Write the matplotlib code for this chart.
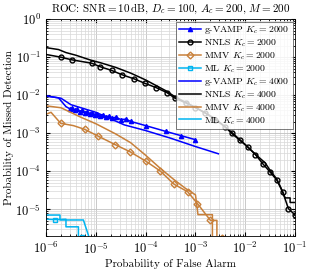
import numpy as np
import matplotlib
matplotlib.use("Agg")
import matplotlib.pyplot as plt

plt.rcParams['font.family'] = 'cmr10'
plt.rcParams['mathtext.fontset'] = 'cm'
plt.rcParams['axes.formatter.use_mathtext'] = True

# all values are log10 of the probabilities
# g-VAMP
gv2000_x = [-6.0, -5.75, -5.6, -5.52, -5.47, -5.42, -5.37, -5.32, -5.27, -5.22, -5.17, -5.12,
            -5.07, -5.02, -4.97, -4.92, -4.86, -4.8, -4.74, -4.67, -4.6, -4.5, -4.4, -4.3,
            -4.0, -3.6, -3.3, -3.0]
gv2000_y = [-2.02, -2.07, -2.3, -2.36, -2.33, -2.40, -2.37, -2.43, -2.40, -2.46, -2.43, -2.49,
            -2.46, -2.52, -2.49, -2.54, -2.51, -2.57, -2.55, -2.60, -2.58, -2.64, -2.63, -2.69,
            -2.80, -2.95, -3.06, -3.17]
gv4000_x = [-6.0, -5.7, -5.5, -5.0, -4.43, -4.0, -3.5, -3.0, -2.54]
gv4000_y = [-2.02, -2.08, -2.25, -2.45, -2.78, -2.93, -3.13, -3.35, -3.54]

# NNLS
nn2000_x = [-6.0, -5.705, -5.484, -5.082, -4.916, -4.681, -4.48, -4.233, -4.012, -3.791, -3.576,
            -3.41, -3.2, -3.0, -2.8, -2.6, -2.4, -2.271, -2.104, -1.95, -1.797, -1.65, -1.502,
            -1.367, -1.247, -1.135, -1.0]
nn2000_y = [-0.93, -1.0, -1.07, -1.16, -1.25, -1.35, -1.46, -1.57, -1.69, -1.80, -1.93,
            -2.08, -2.2, -2.33, -2.47, -2.64, -2.84, -3.005, -3.19, -3.36, -3.56, -3.80, -4.02,
            -4.23, -4.55, -4.98, -5.15]
nn4000_x = [-6.0, -5.75, -5.6, -5.4, -5.1, -4.9, -4.6, -4.3, -4.0, -3.8, -3.6, -3.4, -3.0,
            -2.6, -2.27, -2.0, -1.8, -1.6, -1.5, -1.37, -1.28, -1.2, -1.1, -1.1, -1.0]
nn4000_y = [-0.75, -0.80, -0.88, -0.95, -1.08, -1.15, -1.27, -1.42, -1.60, -1.74, -1.88, -2.05,
            -2.32, -2.62, -2.98, -3.3, -3.55, -3.78, -3.98, -4.2, -4.45, -4.7, -4.7, -4.82, -4.82]

# MMV
mmv2000_x = [-6.0, -5.9, -5.705, -5.45, -5.22, -4.95, -4.61, -4.31, -3.99, -3.71, -3.43,
             -3.155, -2.96, -2.70, -2.57, -2.57, -2.47]
mmv2000_y = [-2.50, -2.45, -2.74, -2.80, -2.90, -3.08, -3.30, -3.49, -3.74, -3.99, -4.34,
             -4.54, -4.85, -5.29, -5.29, -5.75, -5.75]
mmv4000_x = [-6.0, -5.7, -5.3, -5.0, -4.6, -4.3, -4.0, -3.7, -3.45, -3.2, -3.0, -2.95, -2.66, -2.66]
mmv4000_y = [-2.28, -2.33, -2.58, -2.75, -3.02, -3.25, -3.58, -3.93, -4.2, -4.45, -4.62, -5.14,
             -5.14, -6.0]

# ML
ml2000_x = [-6.0, -5.82, -5.6, -5.6, -5.35, -5.35, -5.28]
ml2000_y = [-5.26, -5.27, -5.26, -5.46, -5.46, -5.73, -5.73]
ml4000_x = [-6.0, -5.72, -5.72, -5.25, -5.12]
ml4000_y = [-5.15, -5.15, -5.28, -5.28, -5.8]

labels = [r'g-VAMP $K_c=2000$', r'NNLS $K_c=2000$', r'MMV $K_c=2000$', r'ML $K_c=2000$',
          r'g-VAMP $K_c=4000$', r'NNLS $K_c=4000$', r'MMV $K_c=4000$', r'ML $K_c=4000$']

c_blue = '#0000ff'
c_black = '#000000'
c_orange = '#c8803a'
c_cyan = '#00b4f0'

fig = plt.figure(figsize=(3.09, 2.69), dpi=100)
ax = fig.add_axes([0.149, 0.123, 0.806, 0.806])

p = lambda v: 10.0 ** np.array(v)
lw = 1.1
mk = dict(markersize=3.5, markerfacecolor='none', markeredgewidth=1.0)

ax.plot(p(gv2000_x), p(gv2000_y), color=c_blue, lw=lw, marker='^', markevery=list(range(3, len(gv2000_x))),
        markersize=3, markerfacecolor=c_blue, label=labels[0])
ax.plot(p(nn2000_x), p(nn2000_y), color=c_black, lw=lw, marker='o', markevery=list(range(1, len(nn2000_x))),
        label=labels[1], **mk)
ax.plot(p(mmv2000_x), p(mmv2000_y), color=c_orange, lw=lw, marker='D',
        markevery=[2, 4, 5, 6, 7, 8, 9, 10, 11, 12, 13, 16], label=labels[2], **mk)
ax.plot(p(ml2000_x), p(ml2000_y), color=c_cyan, lw=lw, marker='s', markevery=[1, 6],
        label=labels[3], **mk)
ax.plot(p(gv4000_x), p(gv4000_y), color=c_blue, lw=lw, label=labels[4])
ax.plot(p(nn4000_x), p(nn4000_y), color=c_black, lw=lw, label=labels[5])
ax.plot(p(mmv4000_x), p(mmv4000_y), color=c_orange, lw=lw, label=labels[6])
ax.plot(p(ml4000_x), p(ml4000_y), color=c_cyan, lw=lw, label=labels[7])

ax.set_xscale('log')
ax.set_yscale('log')
ax.set_xlim(1e-6, 1e-1)
ax.set_ylim(2e-6, 1)
ax.set_xticks([1e-6, 1e-5, 1e-4, 1e-3, 1e-2, 1e-1])
ax.set_yticks([1e-5, 1e-4, 1e-3, 1e-2, 1e-1, 1])
ax.grid(True, which='major', color='#c0c0c0', lw=0.6)
ax.grid(True, which='minor', color='#d8d8d8', lw=0.5)
ax.tick_params(which='both', direction='in', top=True, right=True, labelsize=9)
ax.tick_params(which='major', length=3)
ax.tick_params(which='minor', length=1.5)
for s in ax.spines.values():
    s.set_linewidth(0.6)

ax.set_xlabel('Probability of False Alarm', fontsize=8, labelpad=2)
ax.set_ylabel('Probability of Missed Detection', fontsize=8, labelpad=1)
ax.set_title(r'ROC: SNR$=10\,$dB, $D_c=100$, $A_c=200$, $M=200$', fontsize=8, pad=5)

leg = ax.legend(loc='upper right', fontsize=7, labelspacing=0.12, handlelength=2.2,
                handletextpad=0.4, borderpad=0.3, borderaxespad=0.25, fancybox=False,
                framealpha=0.8, edgecolor='#404040')
leg.get_frame().set_linewidth(0.6)

fig.savefig('out.png', dpi=100)
